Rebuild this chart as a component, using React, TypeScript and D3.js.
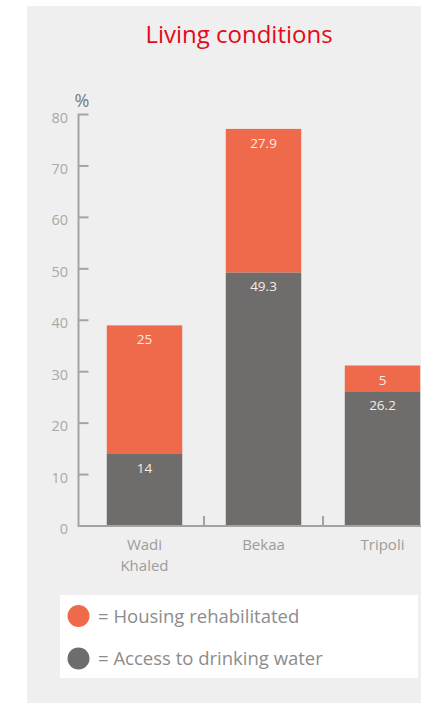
import React from "react";
import * as d3 from "d3";

const categories = ["Wadi Khaled", "Bekaa", "Tripoli"];
const categoryLines = [["Wadi", "Khaled"], ["Bekaa"], ["Tripoli"]];
const waterValues = [14, 49.3, 26.2];
const housingValues = [25, 27.9, 5];
const yTicks = [0, 10, 20, 30, 40, 50, 60, 70, 80];
const seriesKeys = ["water", "housing"];
const seriesLabels = ["= Housing rehabilitated", "= Access to drinking water"];

const W = 421;
const H = 703;
const FONT = "'Open Sans', 'Noto Sans', sans-serif";
const ORANGE = "#ee6a4b";
const GRAY = "#6e6d6b";
const AXIS = "#a3a3a3";

export default function App() {
  const x = d3
    .scaleBand<string>()
    .domain(categories)
    .range([85, 85 + 119 * 3])
    .paddingInner(0.366)
    .paddingOuter(0.183);
  const y = d3.scaleLinear().domain([0, 80]).range([526, 114.5]);

  const rows = categories.map((c, i) => ({
    cat: c,
    water: waterValues[i],
    housing: housingValues[i],
  }));
  const stacked = d3.stack<any>().keys(seriesKeys)(rows);
  const colors: Record<string, string> = { water: GRAY, housing: ORANGE };

  const axisX = 78.5;
  const bw = x.bandwidth();
  const gap = x.step() - bw;
  const dividers = categories.slice(1).map((c) => (x(c) as number) - gap / 2);

  return (
    <svg
      width={W}
      height={H}
      style={{ position: "absolute", left: 0, top: 0, display: "block" }}
      fontFamily={FONT}
    >
      <rect x={0} y={0} width={W} height={H} fill="#ffffff" />
      <rect x={27} y={6} width={W - 27} height={H - 6} fill="#efefef" />
      <text x={239} y={43} textAnchor="middle" fontSize={24} fill="#e30a1a">
        Living conditions
      </text>

      {/* bars */}
      {stacked.map((s) => (
        <g key={s.key}>
          {s.map((d, i) => (
            <g key={i}>
              <rect
                x={x(categories[i])}
                y={y(d[1])}
                width={bw}
                height={y(d[0]) - y(d[1])}
                fill={colors[s.key]}
              />
              <text
                x={(x(categories[i]) as number) + bw / 2}
                y={y(d[1]) + 19}
                textAnchor="middle"
                fontSize={13.5}
                fill="#f7ece8"
              >
                {String((d.data as any)[s.key])}
              </text>
            </g>
          ))}
        </g>
      ))}

      {/* y axis */}
      <path
        d={`M${axisX + 10},${y(80)}H${axisX}V${y(0)}H${W}`}
        fill="none"
        stroke={AXIS}
        strokeWidth={2}
      />
      {yTicks.slice(0, -1).map((t) => (
        <line
          key={t}
          x1={axisX}
          x2={axisX + 10}
          y1={y(t)}
          y2={y(t)}
          stroke={AXIS}
          strokeWidth={2}
        />
      ))}
      {yTicks.map((t) => (
        <text
          key={t}
          x={68}
          y={y(t) + 8}
          textAnchor="end"
          fontSize={14.5}
          fill="#a9a9a9"
        >
          {t}
        </text>
      ))}
      <text x={82} y={107} textAnchor="middle" fontSize={18} fill="#7a7a7a">
        %
      </text>

      {/* x dividers */}
      {dividers.map((dx, i) => (
        <line
          key={i}
          x1={dx}
          x2={dx}
          y1={y(0)}
          y2={y(0) - 10}
          stroke={AXIS}
          strokeWidth={2}
        />
      ))}
      {categories.map((c, i) => (
        <text
          key={c}
          x={(x(c) as number) + bw / 2}
          y={550}
          textAnchor="middle"
          fontSize={15}
          fill="#9c9c9c"
        >
          {categoryLines[i].map((ln, j) => (
            <tspan key={j} x={(x(c) as number) + bw / 2} dy={j === 0 ? 0 : 21}>
              {ln}
            </tspan>
          ))}
        </text>
      ))}

      {/* legend */}
      <rect x={60} y={595} width={358} height={83} fill="#ffffff" />
      {[ORANGE, GRAY].map((col, i) => (
        <g key={i}>
          <circle cx={78.5} cy={616 + i * 42.5} r={11} fill={col} />
          <text x={98} y={622.5 + i * 42.5} fontSize={18.5} fill="#8c8c8c">
            {seriesLabels[i]}
          </text>
        </g>
      ))}
    </svg>
  );
}
